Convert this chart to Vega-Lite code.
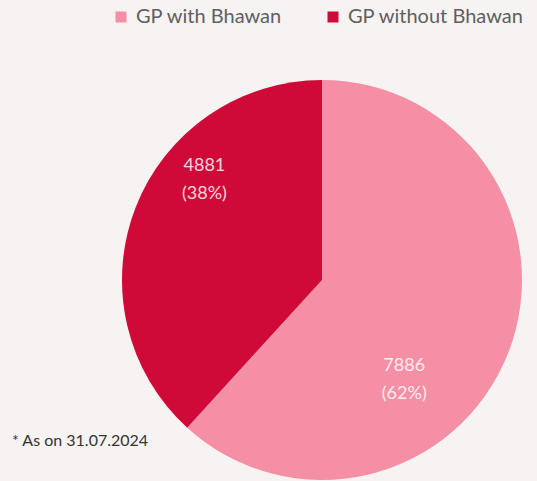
{
  "$schema": "https://vega.github.io/schema/vega-lite/v6.json",
  "autosize": "none",
  "width": 430,
  "height": 402,
  "padding": {"left": 107, "top": 79, "right": 0, "bottom": 0},
  "background": "#f6f3f2",
  "config": {"view": {"stroke": null}, "font": "Lato"},
  "title": {
    "text": "* As on 31.07.2024",
    "orient": "bottom",
    "anchor": "start",
    "frame": "group",
    "dx": -95,
    "dy": -52,
    "fontSize": 16,
    "fontWeight": "normal",
    "color": "#333333",
    "font": "Lato"
  },
  "data": {
    "values": [
      {"category": "GP with Bhawan", "count": 7886, "label": "7886\n(62%)"},
      {"category": "GP without Bhawan", "count": 4881, "label": "4881\n(38%)"}
    ]
  },
  "encoding": {
    "theta": {"field": "count", "type": "quantitative", "stack": true},
    "order": {"field": "category", "type": "ordinal", "sort": "ascending"},
    "color": {
      "field": "category",
      "type": "nominal",
      "scale": {"domain": ["GP with Bhawan", "GP without Bhawan"], "range": ["#f58fa5", "#d00a38"]},
      "legend": {
        "title": null,
        "orient": "none",
        "direction": "horizontal",
        "legendX": 4,
        "legendY": -72,
        "symbolType": "square",
        "symbolSize": 121,
        "symbolStrokeWidth": 0,
        "symbolOpacity": 1,
        "labelFontSize": 20,
        "labelColor": "#5f5f5f",
        "labelFont": "Lato",
        "labelLimit": 300,
        "columnPadding": 40,
        "labelOffset": 5
      }
    }
  },
  "layer": [
    {"mark": {"type": "arc", "outerRadius": 200}},
    {
      "mark": {
        "type": "text",
        "radius": {"expr": "datum.category == 'GP with Bhawan' ? 129 : 155"},
        "thetaOffset": {"expr": "datum.category == 'GP with Bhawan' ? 0.51 : 0.34"},
        "lineBreak": "\n",
        "fontSize": 18,
        "font": "Lato",
        "opacity": 0.82,
        "lineHeight": 28,
        "dy": -13
      },
      "encoding": {
        "text": {"field": "label"},
        "color": {"value": "#ffffff"},
        "detail": {"field": "category", "type": "nominal"}
      }
    }
  ]
}
